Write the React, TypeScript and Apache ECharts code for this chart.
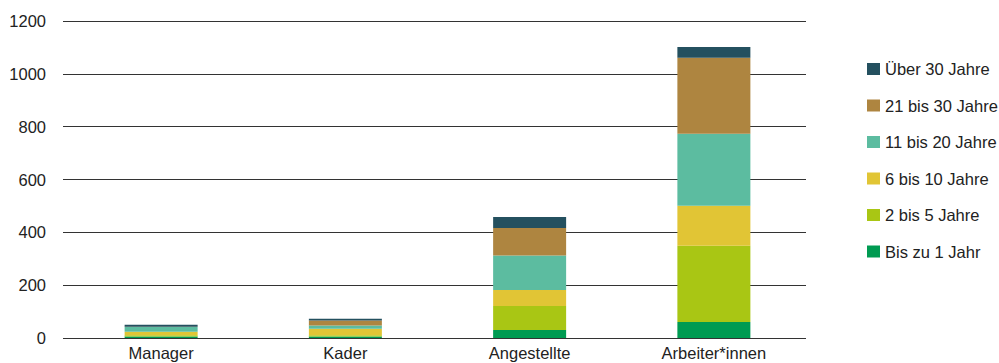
import React, { useEffect, useRef } from "react";
import * as echarts from "echarts";

const categories = ["Manager", "Kader", "Angestellte", "Arbeiter*innen"];
const seriesNames = [
  "Bis zu 1 Jahr",
  "2 bis 5 Jahre",
  "6 bis 10 Jahre",
  "11 bis 20 Jahre",
  "21 bis 30 Jahre",
  "Über 30 Jahre",
];
const bisZu1 = [6, 6, 30, 61];
const bis5 = [4, 4, 91, 288];
const bis10 = [14, 25, 61, 152];
const bis20 = [18, 12, 130, 272];
const bis30 = [1, 19, 104, 288];
const ueber30 = [7, 7, 42, 41];
const seriesValues = [bisZu1, bis5, bis10, bis20, bis30, ueber30];
const colors = ["#009b52", "#a9c614", "#e1c535", "#5cbca0", "#ae8540", "#24505f"];
const yTicks = { min: 0, max: 1200, interval: 200 };

const FONT = "'Liberation Sans', Arial, Helvetica, sans-serif";
const TEXT = "#222222";
const FS = 16.5;

export default function App() {
  const ref = useRef<HTMLDivElement>(null);
  useEffect(() => {
    if (!ref.current) return;
    const chart = echarts.init(ref.current, undefined, { renderer: "svg" });
    chart.setOption({
      animation: false,
      textStyle: { fontFamily: FONT },
      grid: [
        { left: 63, right: 193, top: 21, bottom: 25 },
        { left: 69, right: 193, top: 21, bottom: 25 },
      ],
      legend: {
        orient: "vertical",
        left: 867,
        top: 60,
        padding: 0,
        itemWidth: 13,
        itemHeight: 12,
        itemGap: 18.5,
        icon: "rect",
        data: [...seriesNames].reverse(),
        textStyle: { color: TEXT, fontSize: FS, fontFamily: FONT, lineHeight: 18 },
      },
      xAxis: [
        { type: "value", gridIndex: 0, show: false, min: 0, max: 1 },
        {
          type: "category",
          gridIndex: 1,
          data: categories,
          axisLine: { show: false },
          axisTick: { show: false },
          axisLabel: { color: TEXT, fontSize: FS, fontFamily: FONT, margin: 6 },
        },
      ],
      yAxis: [
        {
          type: "value",
          gridIndex: 0,
          ...yTicks,
          axisLine: { show: false },
          axisTick: { show: false },
          axisLabel: {
            color: TEXT,
            fontSize: FS,
            fontFamily: FONT,
            margin: 17,
            formatter: (v: number) => String(v),
          },
          splitLine: { show: true, lineStyle: { color: "#333333", width: 1 } },
        },
        { type: "value", gridIndex: 1, ...yTicks, show: false },
      ],
      series: seriesNames.map((name, i) => ({
        name,
        type: "bar",
        stack: "total",
        xAxisIndex: 1,
        yAxisIndex: 1,
        barWidth: 73,
        itemStyle: { color: colors[i] },
        data: seriesValues[i],
      })),
    });
    return () => chart.dispose();
  }, []);
  return (
    <div
      ref={ref}
      style={{ position: "fixed", left: 0, top: 0, width: 999, height: 363, background: "#fff" }}
    />
  );
}
